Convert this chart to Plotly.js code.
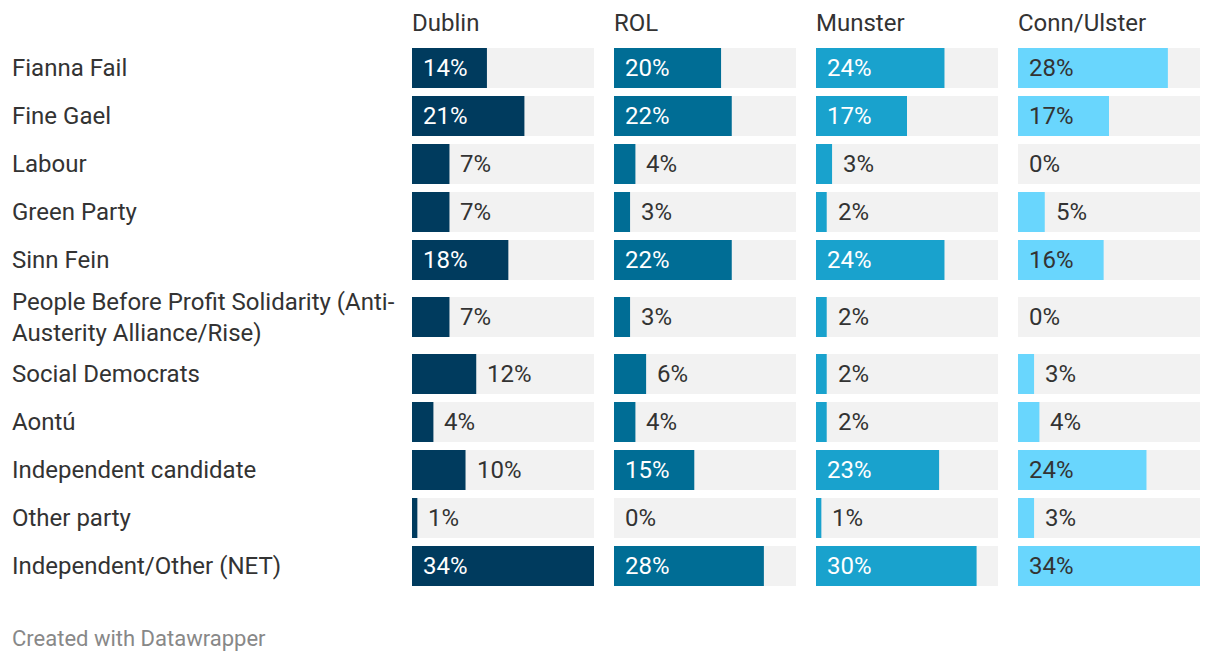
<!DOCTYPE html>
<html>
<head>
<meta charset="utf-8">
<script src="https://cdn.plot.ly/plotly-3.0.1.min.js"></script>
<style>
html,body{margin:0;padding:0;background:#fff;}
#chart{width:1220px;height:662px;}
</style>
</head>
<body>
<div id="chart"></div>
<script>
// ---- data ----
const parties = [
  "Fianna Fail",
  "Fine Gael",
  "Labour",
  "Green Party",
  "Sinn Fein",
  "People Before Profit Solidarity (Anti-<br>Austerity Alliance/Rise)",
  "Social Democrats",
  "Aontú",
  "Independent candidate",
  "Other party",
  "Independent/Other (NET)"
];
const regions = ["Dublin", "ROL", "Munster", "Conn/Ulster"];
const dublin  = [14, 21, 7, 7, 18, 7, 12, 4, 10, 1, 34];
const rol     = [20, 22, 4, 3, 22, 3, 6, 4, 15, 0, 28];
const munster = [24, 17, 3, 2, 24, 2, 2, 2, 23, 1, 30];
const connUlster = [28, 17, 0, 5, 16, 0, 3, 4, 24, 3, 34];

// ---- styling ----
const seriesValues = [dublin, rol, munster, connUlster];
const colors = ["#003b5e", "#006d95", "#19a2cd", "#69d6fd"];
const insideTextColors = ["#ffffff", "#ffffff", "#ffffff", "#333333"];
const FONT = "Roboto, 'Open Sans', sans-serif";
const W = 1220, H = 662;
const plotLeft = 0, plotRight = 20;
const panelStarts = [412, 614, 816, 1018];
const panelWidth = 182;
const insideThreshold = 13;
const LABEL_SIZE = 24;

// row layout (row heights depend on label line count)
const rowH = parties.map(p => p.split("<br>").length > 1 ? 66 : 48);
const centers = [];
let acc = 0;
rowH.forEach(h => { centers.push(acc + h / 2); acc += h; });
const totalH = acc;
const topMargin = 44;
const bottomMargin = H - topMargin - totalH;

const xMax = Math.max(...seriesValues.flat());
const plotW = W - plotLeft - plotRight;

const traces = [];
const annotations = [];
const layout = {
  width: W, height: H,
  margin: {l: plotLeft, r: plotRight, t: topMargin, b: bottomMargin, pad: 0},
  paper_bgcolor: "#ffffff",
  plot_bgcolor: "rgba(0,0,0,0)",
  showlegend: false,
  barmode: "overlay",
  font: {family: FONT, size: LABEL_SIZE, color: "#333333"},
  yaxis: {
    range: [totalH, 0], showgrid: false, zeroline: false, showticklabels: false,
    showline: false, fixedrange: true
  },
  annotations: annotations
};

regions.forEach((reg, k) => {
  const axName = k === 0 ? "x" : "x" + (k + 1);
  const axKey = k === 0 ? "xaxis" : "xaxis" + (k + 1);
  layout[axKey] = {
    domain: [(panelStarts[k] - plotLeft) / plotW, (panelStarts[k] + panelWidth - plotLeft) / plotW],
    range: [0, xMax], showgrid: false, zeroline: false, showticklabels: false,
    showline: false, fixedrange: true
  };
  // background bars
  traces.push({
    type: "bar", orientation: "h", xaxis: axName, yaxis: "y",
    x: parties.map(() => xMax), y: centers, width: 40,
    marker: {color: "#f2f2f2"}, hoverinfo: "skip"
  });
  // value bars
  const vals = seriesValues[k];
  traces.push({
    type: "bar", orientation: "h", xaxis: axName, yaxis: "y",
    x: vals, y: centers, width: 40,
    marker: {color: colors[k]}, name: reg,
    hovertemplate: "%{x}%<extra>" + reg + "</extra>"
  });
  // column title
  annotations.push({
    xref: axName + " domain", yref: "paper", x: 0, y: 1, yshift: 21,
    text: reg, showarrow: false, xanchor: "left", yanchor: "middle", xshift: -2,
    font: {family: FONT, size: LABEL_SIZE, color: "#333333"}
  });
  // value labels
  vals.forEach((v, i) => {
    const inside = v >= insideThreshold;
    annotations.push({
      xref: axName, yref: "y", x: inside ? 0 : v, y: centers[i],
      text: v + "%", showarrow: false, xanchor: "left", yanchor: "middle",
      xshift: 9,
      font: {family: FONT, size: LABEL_SIZE, color: inside ? insideTextColors[k] : "#333333"}
    });
  });
});

// row labels
parties.forEach((p, i) => {
  annotations.push({
    xref: "paper", yref: "y", x: 0, xshift: 10, y: centers[i],
    text: p, showarrow: false, xanchor: "left", yanchor: "middle", align: "left",
    font: {family: FONT, size: LABEL_SIZE, color: "#333333"}
  });
});

// footer
annotations.push({
  xref: "paper", yref: "paper", x: 0, xshift: 10, y: 0, yshift: -(638 - (topMargin + totalH)),
  text: "Created with Datawrapper", showarrow: false, xanchor: "left", yanchor: "middle",
  font: {family: FONT, size: 22, color: "#888888"}
});

Plotly.newPlot("chart", traces, layout, {displayModeBar: false});
</script>
</body>
</html>
